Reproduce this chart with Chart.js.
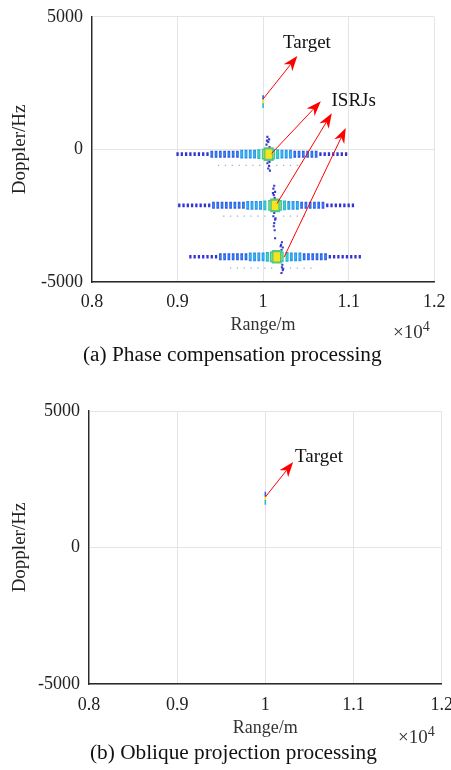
<!DOCTYPE html>
<html><head><meta charset="utf-8">
<script src="https://cdn.jsdelivr.net/npm/chart.js@4.4.1/dist/chart.umd.min.js"></script>
<style>
html,body{margin:0;padding:0;background:#fff;width:451px;height:770px;overflow:hidden;font-family:"Liberation Serif","Times New Roman",serif;}
canvas{position:absolute;left:0;}
.cap{position:absolute;font-size:21.3px;color:#111;white-space:nowrap;line-height:1;}
.exp{position:absolute;font-size:19px;color:#333;white-space:nowrap;line-height:1;}
.exp sup{font-size:14px;position:relative;top:-2px;vertical-align:top;}
</style></head><body>
<canvas id="c1" width="451" height="336" style="top:0"></canvas>
<div class="exp" style="left:393px;top:322px">×10<sup>4</sup></div>
<div class="cap" style="left:83px;top:344px">(a) Phase compensation processing</div>
<canvas id="c2" width="451" height="343" style="top:396px"></canvas>
<div class="exp" style="left:398px;top:727px">×10<sup>4</sup></div>
<div class="cap" style="left:90px;top:742px">(b) Oblique projection processing</div>
<script>
// ---------- axes ----------
const xTicks = [8000, 9000, 10000, 11000, 12000];
const yTicks = [-5000, 0, 5000];

// ---------- target (both panels) ----------
const targetRange   = [10000, 10000, 10000];
const targetDoppler = [1950, 1800, 1650];
const targetLevel   = [1, 6, 3];

// ---------- ISRJ stripes (panel a) ----------
const s1Doppler = -180;
const s1Range = [9000,9050,9100,9150,9200,9250,9300,9350,9400,9450,9500,9550,9600,9650,9700,9750,9800,9850,9900,9950,10005,10065,10120,10170,10220,10270,10320,10370,10420,10470,10520,10570,10620,10670,10720,10770,10820,10870,10920,10970];
const s1Level = [0,0,0,0,0,0,0,0,1,1,1,1,1,1,1,2,2,2,2,3,4,5,4,3,2,2,2,1,1,1,1,1,1,0,0,0,0,0,0,0];

const s2Doppler = -2110;
const s2Range = [9020,9070,9120,9170,9220,9270,9320,9370,9420,9470,9520,9570,9620,9670,9720,9770,9820,9870,9920,9970,10020,10080,10140,10200,10250,10300,10350,10400,10450,10500,10550,10600,10650,10700,10750,10800,10850,10900,10950,11000,11050];
const s2Level = [0,0,0,0,0,0,0,0,1,1,1,1,1,1,1,1,2,2,2,2,3,4,5,4,3,2,2,2,1,1,1,1,1,1,0,0,0,0,0,0,0];

const s3Doppler = -4050;
const s3Range = [9150,9200,9250,9300,9350,9400,9450,9500,9550,9600,9650,9700,9750,9800,9850,9900,9950,10000,10050,10100,10160,10220,10280,10330,10380,10430,10480,10530,10580,10630,10680,10730,10780,10830,10880,10930,10980,11030,11080,11130];
const s3Level = [0,0,0,0,0,0,0,1,1,1,1,1,1,1,2,2,2,2,3,4,5,4,3,2,2,2,1,1,1,1,1,1,0,0,0,0,0,0,0,0];

// vertical spread around each stripe centre
const spike1Range   = [10050,10070,10060,10040,10075,10060,10050,10070,10060,10080,10045,10075];
const spike1Doppler = [470,380,280,180,90,-420,-520,-620,-720,-800,330,-470];
const spike2Range   = [10130,10120,10140,10125,10135,10130,10120,10140,10130,10125,10135,10140,10115,10145];
const spike2Doppler = [-1370,-1480,-1600,-1720,-1830,-2400,-2520,-2650,-2780,-2900,-3050,-3350,-1650,-2600];
const spike3Range   = [10220,10210,10230,10215,10225,10220,10230,10215,10205,10235];
const spike3Doppler = [-3500,-3600,-3700,-3800,-4350,-4450,-4550,-4660,-3650,-4500];

// faint secondary rows under each stripe
const row1Range = [9480,9560,9640,9720,9800,9880,9960,10160,10240,10320,10400];
const row1Doppler = -600;
const row2Range = [9540,9620,9700,9780,9860,9940,10020,10240,10320,10400,10480];
const row2Doppler = -2520;
const row3Range = [9620,9700,9780,9860,9940,10020,10100,10320,10400,10480,10560];
const row3Doppler = -4480;

// ---------- annotations ----------
const arrowsA = [[10000,1900,10400,3520],[10100,-150,10675,1816],[10163,-2041,10803,1367],[10245,-4063,10966,805]];
const labelsA = [['Target',10512,4026],['ISRJs',11059,1816]];
const arrowsB = [[10000,1850,10315,3130]];
const labelsB = [['Target',10609,3315]];

// ---------- styling helpers ----------
const levelColor = ['#3434d2','#2c5ee6','#2a92ee','#22bad6','#3cc6a0','#58c87c','#f4de20'];
const coreColor  = ['#4444dc','#3a86f2','#3ab8ea','#40d4b8','#a0d85c','#f8e41c','#f8e41c'];
const levelHalf  = [1.8,3.5,4.4,4.9,5.4,6.8,2.4];
const levelWidth = [2.3,2.7,2.9,3.1,3.5,10,1.6];

function pts(xs, ys, lv){
  return xs.map((x,i)=>({x:x, y:Array.isArray(ys)?ys[i]:ys, lv: lv? lv[i]:0}));
}
function blobSet(data){
  return {type:'scatter', data, pointStyle:'line', rotation:90,
    pointRadius: c=>levelHalf[c.raw.lv], pointBorderWidth: c=>levelWidth[c.raw.lv],
    borderColor: c=>levelColor[c.raw.lv], backgroundColor: c=>levelColor[c.raw.lv], showLine:false, order:3};
}
function coreSet(data){
  return {type:'scatter', data: data.filter(p=>p.lv>=1), pointStyle:'line', rotation:90,
    pointRadius: c=>c.raw.lv===5?4.6:Math.max(0.8,levelHalf[c.raw.lv]-1.6), pointBorderWidth: c=>c.raw.lv===5?6.5:1.3,
    borderColor: c=>coreColor[c.raw.lv], backgroundColor: c=>coreColor[c.raw.lv], showLine:false, order:2};
}
function dotSet(data, color, r){
  return {type:'scatter', data, pointStyle:'rect', pointRadius:r, pointBorderWidth:0,
    backgroundColor:color, borderColor:color, showLine:false, order:4};
}
function targetSet(){
  const d = pts(targetRange, targetDoppler, targetLevel);
  return {type:'scatter', data:d, pointStyle:'line', rotation:90, pointRadius:2.4, pointBorderWidth:1.6,
    borderColor:c=>levelColor[c.raw.lv], showLine:false, order:1};
}

function drawArrow(ctx,x1,y1,x2,y2){
  const a=Math.atan2(y2-y1,x2-x1), L=15, W=5.5, B=4.5;
  ctx.save();
  ctx.strokeStyle='#ff0000'; ctx.fillStyle='#ff0000'; ctx.lineWidth=1;
  ctx.beginPath(); ctx.moveTo(x1,y1); ctx.lineTo(x2-Math.cos(a)*(L-B), y2-Math.sin(a)*(L-B)); ctx.stroke();
  ctx.translate(x2,y2); ctx.rotate(a);
  ctx.beginPath(); ctx.moveTo(0,0); ctx.lineTo(-L,-W); ctx.lineTo(-L+B,0); ctx.lineTo(-L,W); ctx.closePath(); ctx.fill();
  ctx.restore();
}
const annot = {
  id:'annot',
  afterDatasetsDraw(chart, args, opts){
    const ctx=chart.ctx, xs=chart.scales.x, ys=chart.scales.y;
    (opts.arrows||[]).forEach(a=>drawArrow(ctx, xs.getPixelForValue(a[0]), ys.getPixelForValue(a[1]), xs.getPixelForValue(a[2]), ys.getPixelForValue(a[3])));
    ctx.save();
    ctx.fillStyle='#111'; ctx.font='19px "Liberation Serif", serif'; ctx.textAlign='center'; ctx.textBaseline='middle';
    (opts.labels||[]).forEach(l=>ctx.fillText(l[0], xs.getPixelForValue(l[1]), ys.getPixelForValue(l[2])));
    ctx.restore();
  }
};

function makeOptions(padTop, padRight, yWidth, xHeight, tickPadX, tickPadY, arrows, labels){
  const tickFont = {family:'"Liberation Serif", serif', size:18};
  const titleFont = {family:'"Liberation Serif", serif', size:18};
  return {
    responsive:false, animation:false, events:[],
    layout:{padding:{top:padTop, right:padRight, left:0, bottom:0}},
    plugins:{legend:{display:false}, tooltip:{enabled:false}, annot:{arrows, labels}},
    scales:{
      x:{type:'linear', min:xTicks[0], max:xTicks[xTicks.length-1],
        afterBuildTicks: s=>{ s.ticks = xTicks.map(v=>({value:v})); },
        afterFit: s=>{ s.height = xHeight; s.paddingLeft = 0; s.paddingRight = 0; },
        ticks:{color:'#222', font:tickFont, padding:tickPadX, maxRotation:0, autoSkip:false, callback:v=>String(v/10000)},
        grid:{color:'#e4e4e4', lineWidth:1, drawTicks:false},
        border:{display:true, color:'#2a2a2a', width:1.4},
        title:{display:true, text:'Range/m', color:'#333', font:titleFont, padding:{top:0,bottom:0}}},
      y:{type:'linear', min:yTicks[0], max:yTicks[yTicks.length-1],
        afterBuildTicks: s=>{ s.ticks = yTicks.map(v=>({value:v})); },
        afterFit: s=>{ s.width = yWidth; s.paddingTop = 0; s.paddingBottom = 0; },
        ticks:{color:'#222', font:tickFont, padding:tickPadY, callback:v=>String(v)},
        grid:{color:'#e4e4e4', lineWidth:1, drawTicks:false},
        border:{display:true, color:'#2a2a2a', width:1.4},
        title:{display:true, text:'Doppler/Hz', color:'#222', font:{family:'"Liberation Serif", serif', size:19}, padding:{top:9,bottom:0}}}
    }
  };
}

const s1 = pts(s1Range, s1Doppler, s1Level);
const s2 = pts(s2Range, s2Doppler, s2Level);
const s3 = pts(s3Range, s3Doppler, s3Level);
const spikeColor = '#3a3acc';
const rowColor = '#a4a8d8';

new Chart(document.getElementById('c1'), {
  type:'scatter',
  data:{datasets:[
    dotSet(pts(row1Range,row1Doppler).concat(pts(row2Range,row2Doppler), pts(row3Range,row3Doppler)), rowColor, 0.9),
    dotSet(pts(spike1Range,spike1Doppler).concat(pts(spike2Range,spike2Doppler), pts(spike3Range,spike3Doppler)), spikeColor, 1.5),
    blobSet(s1), blobSet(s2), blobSet(s3),
    coreSet(s1), coreSet(s2), coreSet(s3),
    targetSet()
  ]},
  options: makeOptions(15, 15, 92, 54, 9, 9, arrowsA, labelsA),
  plugins:[annot]
});

new Chart(document.getElementById('c2'), {
  type:'scatter',
  data:{datasets:[ targetSet() ]},
  options: makeOptions(15, 9.3, 89, 55, 10, 9, arrowsB, labelsB),
  plugins:[annot]
});
</script>
</body></html>
